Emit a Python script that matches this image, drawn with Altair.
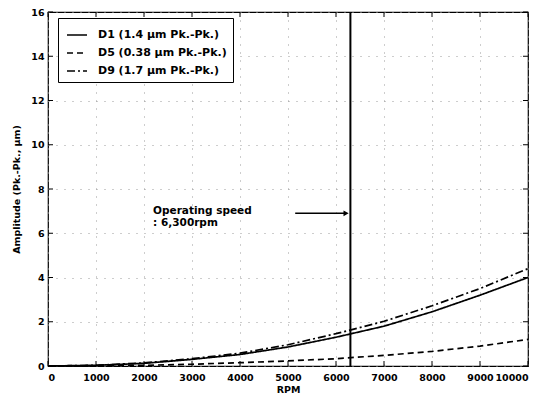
import altair as alt
import pandas as pd

rpm = [0, 1000, 2000, 3000, 4000, 5000, 6000, 7000, 8000, 9000, 10000]
d1 = [0, 0.03, 0.12, 0.30, 0.52, 0.86, 1.30, 1.80, 2.45, 3.20, 4.00]
d5 = [0, 0.01, 0.03, 0.08, 0.15, 0.23, 0.33, 0.48, 0.66, 0.90, 1.20]
d9 = [0, 0.03, 0.14, 0.33, 0.58, 0.96, 1.46, 2.02, 2.72, 3.50, 4.40]
series_names = ["D1 (1.4 \u03bcm Pk.-Pk.)", "D5 (0.38 \u03bcm Pk.-Pk.)", "D9 (1.7 \u03bcm Pk.-Pk.)"]
xticks = [0, 1000, 2000, 3000, 4000, 5000, 6000, 7000, 8000, 9000, 10000]
yticks = [0, 2, 4, 6, 8, 10, 12, 14, 16]
op_speed = 6300
arrow_start = 5150
arrow_end = 6210
arrow_y = 6.9
ann_lines = ["Operating speed", ": 6,300rpm"]
ann_x = 2190
ann_y = [7.0, 6.48]

rows = []
for name, vals in zip(series_names, [d1, d5, d9]):
    for r, v in zip(rpm, vals):
        rows.append({"rpm": r, "amp": v, "series": name})
df = pd.DataFrame(rows)

FONT = "DejaVu Sans"
W, H = 480, 354

xs = alt.Scale(domain=[0, 10000], nice=False)
ys = alt.Scale(domain=[0, 16], nice=False)

lines = alt.Chart(df).mark_line(strokeWidth=1.7, color="black").encode(
    x=alt.X("rpm:Q", scale=xs, title="RPM",
            axis=alt.Axis(values=xticks, format="d", grid=True, tickSize=0,
                          labelPadding=6, titlePadding=3)),
    y=alt.Y("amp:Q", scale=ys, title="Amplitude (Pk.-Pk., \u03bcm)",
            axis=alt.Axis(values=yticks, grid=True, tickSize=0, labelPadding=4,
                          titlePadding=9)),
    strokeDash=alt.StrokeDash("series:N", sort=series_names,
        scale=alt.Scale(domain=series_names, range=[[1, 0], [6, 4], [8, 3, 2, 3]]),
        legend=alt.Legend(title=None, orient="none", legendX=10, legendY=6,
                          symbolType="stroke", symbolSize=400, symbolStrokeWidth=1.7,
                          symbolStrokeColor="black", symbolOffset=2,
                          labelFont=FONT, labelFontSize=11, labelFontWeight="bold",
                          labelColor="black", rowPadding=2, padding=6, labelOffset=10,
                          strokeColor="black", fillColor="white")),
)

vdf = pd.DataFrame({"x": [op_speed]})
vline = alt.Chart(vdf).mark_rule(color="black", strokeWidth=2).encode(
    x=alt.X("x:Q", scale=xs))

adf = pd.DataFrame({"x": [arrow_start], "x2": [arrow_end], "y": [arrow_y]})
arrow = alt.Chart(adf).mark_rule(color="black", strokeWidth=1.5).encode(
    x=alt.X("x:Q", scale=xs), x2="x2:Q", y=alt.Y("y:Q", scale=ys))
head = alt.Chart(adf).mark_point(shape="triangle-right", filled=True, color="black",
                                  size=35, opacity=1).encode(
    x=alt.X("x2:Q", scale=xs), y=alt.Y("y:Q", scale=ys))

tdf = pd.DataFrame({"x": [ann_x, ann_x], "y": ann_y, "t": ann_lines})
text = alt.Chart(tdf).mark_text(align="left", baseline="middle", font=FONT,
                                fontSize=10.5, fontWeight="bold", color="black").encode(
    x=alt.X("x:Q", scale=xs), y=alt.Y("y:Q", scale=ys), text="t:N")

xt = pd.DataFrame({"x": xticks})
yt = pd.DataFrame({"y": yticks})
xtick_b = alt.Chart(xt).mark_rule(color="black").encode(
    x=alt.X("x:Q", scale=xs), y=alt.value(H), y2=alt.value(H - 5))
xtick_t = alt.Chart(xt).mark_rule(color="black").encode(
    x=alt.X("x:Q", scale=xs), y=alt.value(0), y2=alt.value(5))
ytick_l = alt.Chart(yt).mark_rule(color="black").encode(
    y=alt.Y("y:Q", scale=ys), x=alt.value(0), x2=alt.value(5))
ytick_r = alt.Chart(yt).mark_rule(color="black").encode(
    y=alt.Y("y:Q", scale=ys), x=alt.value(W), x2=alt.value(W - 5))

chart = alt.layer(lines, vline, arrow, head, text, xtick_b, xtick_t, ytick_l, ytick_r).properties(
    width=W, height=H,
    autosize=alt.AutoSizeParams(type="none"),
    padding={"left": 40, "top": 4, "right": 6, "bottom": 32},
    background="white",
).configure_view(stroke="black", strokeWidth=1.2).configure_axis(
    labelFont=FONT, labelFontSize=9.5, labelFontWeight="bold", labelColor="black",
    titleFont=FONT, titleFontSize=9.5, titleFontWeight="bold", titleColor="black",
    domain=False, gridColor="#9a9a9a", gridDash=[1, 7], gridWidth=1,
)

chart.save("out.html", embed_options={"renderer": "svg", "actions": False})
